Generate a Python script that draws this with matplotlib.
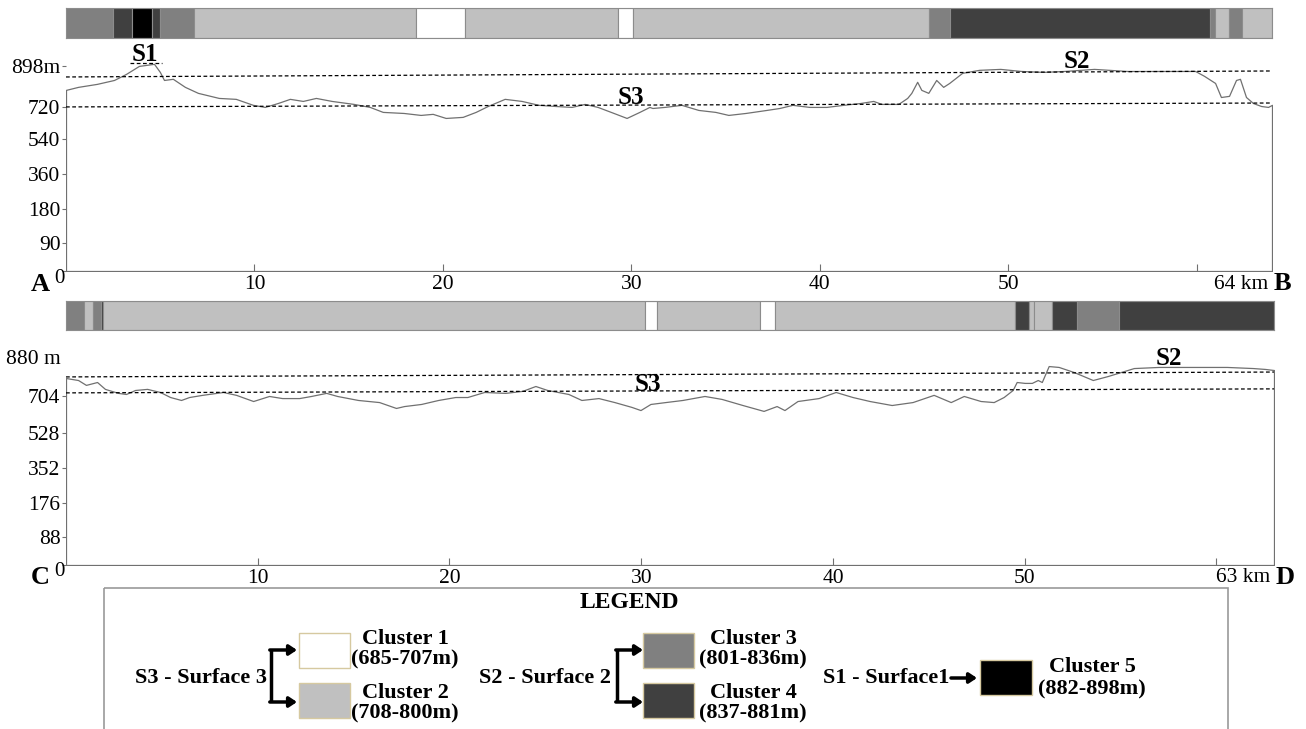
import numpy as np
import matplotlib.pyplot as plt
from matplotlib.patches import Rectangle

plt.rcParams['font.family'] = ['Liberation Serif', 'DejaVu Serif']

# cluster colours, index 1..5
cluster_colors = {1: '#ffffff', 2: '#c0c0c0', 3: '#808080', 4: '#404040', 5: '#000000'}

# ---- profile A-B (64 km) ----
ab_km = [0.0, 0.64, 1.64, 2.55, 3.18, 3.87, 4.67, 4.98, 5.20, 5.67, 6.31, 7.00, 8.11, 9.01,
         9.92, 10.55, 11.24, 11.88, 12.57, 13.26, 14.10, 15.27, 16.12, 16.81, 17.92, 18.82,
         19.46, 20.15, 21.05, 21.74, 22.38, 23.28, 24.18, 25.08, 25.98, 26.83, 27.52, 28.21,
         29.06, 29.75, 30.43, 30.96, 31.12, 31.76, 32.66, 33.56, 34.46, 35.15, 36.06, 37.17,
         37.86, 38.55, 39.45, 40.35, 41.25, 42.15, 42.84, 43.27, 44.17, 44.64, 44.86, 45.17,
         45.39, 45.76, 46.18, 46.55, 46.87, 47.56, 48.46, 49.58, 50.69, 51.86, 52.97, 54.56,
         56.31, 58.59, 59.92, 60.39, 60.98, 61.29, 61.72, 62.09, 62.30, 62.62, 62.99, 63.42,
         63.79, 64.0]
ab_elev = [794, 807, 820, 837, 863, 898, 907, 872, 837, 842, 807, 781, 759, 755,
           729, 720, 737, 755, 746, 759, 746, 733, 720, 692, 686, 675,
           681, 658, 664, 692, 724, 755, 746, 729, 724, 720, 733, 720,
           686, 658, 692, 720, 714, 720, 729, 703, 692, 675, 686, 703,
           714, 729, 720, 720, 729, 737, 746, 733, 733, 759, 781, 829,
           794, 781, 837, 807, 824, 868, 881, 885, 876, 872, 876, 885,
           876, 876, 876, 855, 824, 763, 768, 837, 842, 763, 737, 724,
           720, 729]
ab_breaks = [0, 2.5, 3.5, 4.55, 5.0, 6.8, 18.6, 21.2, 29.3, 30.1, 45.8, 46.9, 60.7, 61.0,
             61.7, 62.4, 64]
ab_clusters = [3, 4, 5, 4, 3, 2, 1, 2, 1, 2, 3, 4, 3, 2, 3, 2]
ab_yticks = [0, 90, 180, 360, 540, 720, 898]
ab_ylabels = ['', '90', '180', '360', '540', '720', '898m']
ab_s2 = [850, 876]
ab_s3 = [720, 737]
ab_s1 = [911, 911]

# ---- profile C-D (63 km) ----
cd_km = [0.0, 0.63, 1.04, 1.62, 2.03, 2.71, 3.13, 3.60, 4.23, 4.90, 5.43, 6.00, 6.42, 7.10,
         8.19, 8.87, 9.76, 10.59, 11.27, 12.16, 12.78, 13.57, 14.14, 15.23, 16.33, 17.21,
         17.63, 18.52, 19.41, 20.30, 20.93, 21.81, 22.91, 23.80, 24.48, 25.10, 26.20, 26.88,
         27.77, 28.60, 29.49, 29.96, 30.48, 31.26, 32.15, 33.30, 34.19, 35.28, 36.38, 37.06,
         37.47, 38.15, 39.25, 40.14, 41.02, 41.91, 43.06, 44.15, 45.25, 46.14, 46.82, 47.70,
         48.38, 48.90, 49.37, 49.58, 50.00, 50.37, 50.68, 50.89, 51.25, 51.77, 52.56, 53.55,
         54.33, 55.69, 56.99, 58.77, 60.54, 61.90, 62.53, 63.0]
cd_elev = [785, 776, 754, 767, 736, 718, 713, 731, 736, 722, 699, 685, 699, 709,
           722, 709, 680, 704, 694, 694, 704, 718, 704, 685, 675, 647,
           656, 666, 685, 699, 699, 722, 718, 727, 749, 731, 713, 685,
           694, 675, 652, 637, 666, 675, 685, 704, 690, 661, 633, 656,
           637, 680, 694, 722, 699, 680, 661, 675, 709, 675, 704, 680,
           675, 699, 731, 767, 763, 763, 776, 767, 839, 835, 812, 776,
           794, 830, 835, 835, 835, 830, 826, 821]
cd_breaks = [0, 0.94, 1.41, 1.83, 1.93, 30.2, 30.8, 36.2, 37.0, 49.5, 50.2, 50.5, 51.4,
             52.7, 54.9, 63]
cd_clusters = [3, 2, 3, 4, 2, 1, 2, 1, 2, 4, 2, 2, 4, 3, 4]
cd_yticks = [0, 88, 176, 352, 528, 704, 880]
cd_ylabels = ['', '88', '176', '352', '528', '704', '880 m']
cd_s2 = [790, 812]
cd_s3 = [718, 736]

# legend content
legend_names = ['Cluster 1', 'Cluster 2', 'Cluster 3', 'Cluster 4', 'Cluster 5']
legend_ranges = ['(685-707m)', '(708-800m)', '(801-836m)', '(837-881m)', '(882-898m)']
surface_names = ['S3 - Surface 3', 'S2 - Surface 2', 'S1 - Surface1']

W, H = 1306, 729
fig = plt.figure(figsize=(W / 100, H / 100), dpi=100)


def frac(x0, x1, y_top, y_bot):
    return [x0 / W, 1 - y_bot / H, (x1 - x0) / W, (y_bot - y_top) / H]


def make_scale(vals, heights):
    vals = np.asarray(vals, float)
    heights = np.asarray(heights, float)
    fwd = lambda v: np.interp(v, vals, heights)
    inv = lambda h: np.interp(h, heights, vals)
    return fwd, inv


def draw_bar(rect, breaks, clusters, total):
    ax = fig.add_axes(rect)
    starts = np.array(breaks[:-1])
    widths = np.diff(breaks)
    ax.barh(0, widths, left=starts, height=1, color=[cluster_colors[c] for c in clusters],
            edgecolor='#8c8c8c', linewidth=0.8)
    ax.set_xlim(0, total)
    ax.set_ylim(-0.5, 0.5)
    ax.set_xticks([])
    ax.set_yticks([])
    for s in ax.spines.values():
        s.set_color('#8c8c8c')
    return ax


def draw_profile(rect, km, elev, total, yticks, ylabels, knots, ymax, s2, s3,
                 end_lab, left_lab, right_lab):
    ax = fig.add_axes(rect)
    fwd, inv = make_scale(*knots)
    ax.set_yscale('function', functions=(fwd, inv))
    ax.fill_between(km, elev, 0, facecolor='white', edgecolor='#707070', linewidth=0.9)
    ax.plot([0, total], s2, color='black', lw=0.9, ls=(0, (3, 2)))
    ax.plot([0, total], s3, color='black', lw=0.9, ls=(0, (3, 2)))
    ax.set_xlim(0, total)
    ax.set_ylim(0, ymax)
    for s in ax.spines.values():
        s.set_visible(False)
    ax.set_yticks(yticks)
    ax.set_yticklabels(ylabels)
    ax.set_xticks([10, 20, 30, 40, 50, 60])
    ax.set_xticklabels(['10', '20', '30', '40', '50', ''])
    ax.tick_params(axis='y', direction='out', length=3, width=0.8, color='#707070',
                   pad=1, labelsize=15.5)
    ax.tick_params(axis='x', direction='in', length=5, width=0.8, color='#707070',
                   pad=3, labelsize=15.5)
    ax.annotate('0', xy=(0, 0), xytext=(-7, -7), textcoords='offset pixels',
                ha='center', va='center', fontsize=15)
    ax.annotate(left_lab, xy=(0, 0), xytext=(-26, -13), textcoords='offset pixels',
                ha='center', va='center', fontsize=19, fontweight='bold')
    ax.annotate(end_lab, xy=(total, 0), xytext=(-4, -13), textcoords='offset pixels',
                ha='right', va='center', fontsize=15.5)
    ax.annotate(right_lab, xy=(total, 0), xytext=(2, -12), textcoords='offset pixels',
                ha='left', va='center', fontsize=19, fontweight='bold')
    return ax


# top pair
draw_bar(frac(66, 1272, 8, 38), ab_breaks, ab_clusters, 64)
ax1 = draw_profile(frac(66, 1272, 50, 271), ab_km, ab_elev, 64, ab_yticks, ab_ylabels,
                   ([0, 90, 180, 360, 540, 720, 898, 1000], [0, 28, 62, 97, 132, 164, 205, 228.5]),
                   967, ab_s2, ab_s3, '64 km', 'A', 'B')
ax1.plot([3.4, 5.1], ab_s1, color='black', lw=0.9, ls=(0, (3, 2)))
ax1.text(4.19, 946, 'S1', ha='center', va='center', fontsize=18, fontweight='bold')
ax1.text(53.66, 915, 'S2', ha='center', va='center', fontsize=18, fontweight='bold')
ax1.text(29.96, 759, 'S3', ha='center', va='center', fontsize=18, fontweight='bold')

# bottom pair
draw_bar(frac(66, 1274, 301, 330), cd_breaks, cd_clusters, 63)
ax2 = draw_profile(frac(66, 1274, 345, 565), cd_km, cd_elev, 63, cd_yticks, cd_ylabels,
                   ([0, 88, 176, 352, 528, 704, 880, 1000], [0, 28, 62, 97, 132, 169, 208, 234.6]),
                   934, cd_s2, cd_s3, '63 km', 'C', 'D')
ax2.yaxis.get_major_ticks()[-1].tick1line.set_visible(False)
ax2.text(30.36, 754, 'S3', ha='center', va='center', fontsize=18, fontweight='bold')
ax2.text(57.5, 871, 'S2', ha='center', va='center', fontsize=18, fontweight='bold')

# legend panel drawn in pixel coordinates
lg = fig.add_axes([0, 0, 1, 1])
lg.set_xlim(0, W)
lg.set_ylim(H, 0)
lg.axis('off')
lg.add_patch(Rectangle((104, 588), 1124, 160, facecolor='none', edgecolor='#9a9a9a', lw=1.2,
                       clip_on=False))
lg.text(629, 602, 'LEGEND', ha='center', va='center', fontsize=17, fontweight='bold')

bold = dict(ha='center', va='center', fontsize=16, fontweight='bold')
arrow = dict(arrowstyle='-|>,head_length=0.45,head_width=0.3', lw=2.5, color='black',
             shrinkA=0, shrinkB=0)

# S3 and S2 groups: two clusters each, bracket + arrows
groups = [(0, 1, 201, 271, 299, 405), (2, 3, 545, 617, 643, 753)]
for i1, i2, sx, bx, boxx, tx in groups:
    name = surface_names[0] if i1 == 0 else surface_names[1]
    lg.text(sx, 678, name, **bold)
    lg.plot([bx, bx], [650, 702], color='black', lw=2.5, solid_capstyle='butt')
    for yy in (650, 702):
        lg.annotate('', xy=(bx + 26, yy), xytext=(bx - 1.2, yy), arrowprops=arrow)
    for idx, by, ty in ((i1, 633, 639), (i2, 683, 693)):
        lg.add_patch(Rectangle((boxx, by), 51, 35, facecolor=cluster_colors[idx + 1],
                               edgecolor='#d6c9a0', lw=1))
        lg.text(tx, ty, legend_names[idx], **bold)
        lg.text(tx, ty + 20, legend_ranges[idx], **bold)

# S1 group
lg.text(886, 678, surface_names[2], **bold)
lg.annotate('', xy=(977, 678), xytext=(951, 678), arrowprops=arrow)
lg.add_patch(Rectangle((980, 660), 52, 35, facecolor=cluster_colors[5], edgecolor='#d6c9a0', lw=1))
lg.text(1092, 667, legend_names[4], **bold)
lg.text(1092, 689, legend_ranges[4], **bold)

fig.savefig('out.png', dpi=100)
